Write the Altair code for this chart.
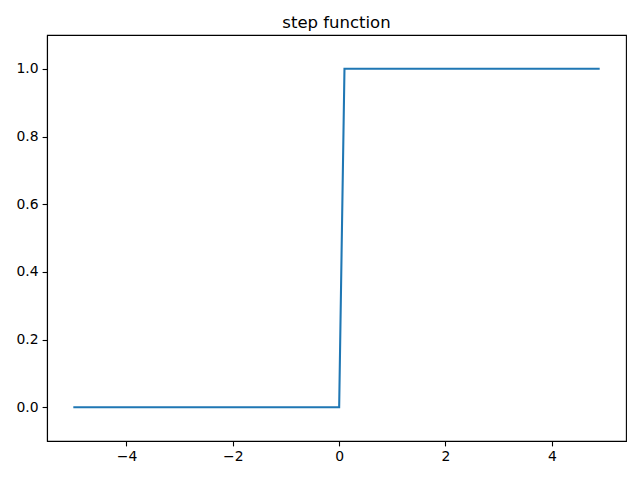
import altair as alt
import pandas as pd

x_vals = [-5.0, 0.0, 0.1, 4.9]
y_vals = [0, 0, 1, 1]
x_ticks = [-4, -2, 0, 2, 4]
y_ticks = [0.0, 0.2, 0.4, 0.6, 0.8, 1.0]

df = pd.DataFrame({"x": x_vals, "y": y_vals, "order": list(range(len(x_vals)))})

chart = alt.Chart(df).mark_line(color="#1f77b4", strokeWidth=2.08).encode(
    x=alt.X("x:Q", scale=alt.Scale(domain=[-5.495, 5.395], nice=False, zero=False),
            axis=alt.Axis(values=x_ticks, format="d", title=None, grid=False)),
    y=alt.Y("y:Q", scale=alt.Scale(domain=[-0.1, 1.1], nice=False, zero=False),
            axis=alt.Axis(values=y_ticks, format=".1f", title=None, grid=False)),
    order="order:Q",
).properties(
    width=579, height=406,
    title=alt.TitleParams("step function", font="DejaVu Sans", fontSize=16.5,
                          fontWeight="normal", color="black", offset=4, anchor="middle"),
    autosize=alt.AutoSizeParams(type="none"),
    padding={"left": 39, "top": 27, "right": 6, "bottom": 31},
).configure_view(
    stroke="black", strokeWidth=1.1
).configure_axis(
    domainColor="black", domainWidth=1.1, tickColor="black", tickWidth=1.1,
    tickSize=4.9, labelFont="DejaVu Sans", labelFontSize=13.9, labelColor="black",
    labelPadding=4, labelFlush=False, labelOverlap=False
)

chart.save("out.html", embed_options={"renderer": "svg", "actions": False})
